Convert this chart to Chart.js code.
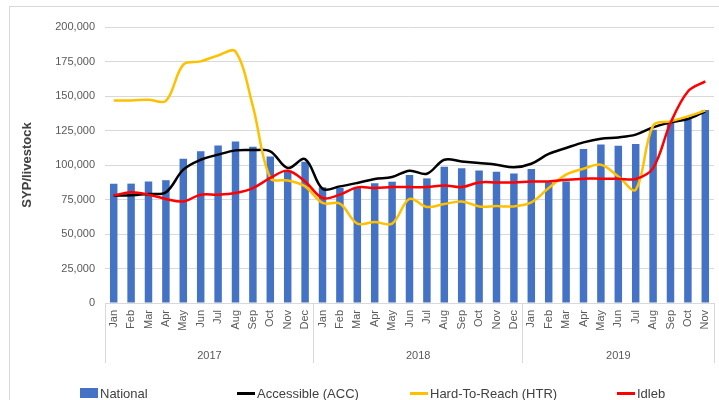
<!DOCTYPE html>
<html>
<head>
<meta charset="utf-8">
<script src="https://cdn.jsdelivr.net/npm/chart.js@4.4.0/dist/chart.umd.min.js"></script>
<style>
  body { margin: 0; overflow: hidden; background: #fff; font-family: "Liberation Sans", Arial, sans-serif; }
  #frame { position: absolute; left: 9px; top: 6px; width: 730px; height: 430px; border: 1px solid #d9d9d9; }
  #chart { position: absolute; left: 0; top: 0; }
  .item { position: absolute; top: 385px; height: 16px; display: flex; align-items: center; font-size: 13px; color: #404040; white-space: nowrap; }
  .item span.mark { display: inline-block; width: 18px; margin-right: 2px; }
</style>
</head>
<body>
<div id="frame"></div>
<canvas id="chart" width="719" height="400"></canvas>
<div id="legend"></div>
<script>
// month / year labels
const months = ['Jan','Feb','Mar','Apr','May','Jun','Jul','Aug','Sep','Oct','Nov','Dec']
const years = ['2017', '2018', '2019']
const monthsPerYear = [12, 12, 11]

// SYP per livestock
const national = [86500, 86500, 88000, 89000, 104500, 110000, 114200, 117000, 113300, 106200, 96000, 102400,
  83800, 83500, 83300, 86700, 87900, 92700, 90300, 98800, 97600, 96100, 95100, 93900,
  97100, 87500, 88100, 111600, 114900, 114000, 115200, 125600, 130400, 133800, 139900]
const accessible = [77800, 78000, 79000, 80200, 96600, 103800, 107500, 110600, 110800, 109900, 97800, 104300,
  82800, 84500, 87000, 89900, 91300, 95900, 93700, 103800, 102600, 101400, 100200, 98300,
  100900, 108000, 112300, 116400, 119100, 120000, 122000, 127300, 130900, 133300, 138800]
const htr = [146800, 146800, 147300, 146500, 172700, 175100, 179400, 182300, 142500, 90600, 88800, 84500,
  72500, 72000, 57500, 58700, 57500, 75400, 69600, 71700, 73600, 70000, 70200, 70000,
  72900, 83300, 93000, 97300, 100200, 91700, 82100, 128500, 131600, 135200, 139400]
const idleb = [77800, 80200, 78500, 75400, 73600, 78500, 78500, 79700, 83300, 90600, 95900, 88100,
  76100, 78500, 83800, 83300, 84000, 84000, 84000, 85200, 84000, 87400, 87400, 87400,
  88100, 88100, 89300, 90100, 90100, 90100, 89900, 97800, 130400, 153300, 160600]

let labels = []
monthsPerYear.forEach(n => { for (let i = 0; i < n; i++) labels.push(months[i]) })

// centre of each year group on a -0.5..N-0.5 linear scale
let yearCenters = []
let start = 0
monthsPerYear.forEach(n => { yearCenters.push(start + (n - 1) / 2); start += n })
// index where each year group starts (for separators)
let yearStarts = [0]
monthsPerYear.reduce((acc, n) => { yearStarts.push(acc + n); return acc + n }, 0)

const grey = '#595959'
const gridGrey = '#d9d9d9'
const lineDs = (label, data, color, order) => ({
  type: 'line', label: label, data: data, borderColor: color, backgroundColor: color,
  borderWidth: 2.5, pointRadius: 0, tension: 0.35, order: order
})

const ctx = document.getElementById('chart')
const chart = new Chart(ctx, {
  type: 'bar',
  data: {
    labels: labels,
    datasets: [
      { label: 'National', data: national, backgroundColor: '#4472C4', order: 3,
        categoryPercentage: 1, barPercentage: 0.43 },
      lineDs('Accessible (ACC)', accessible, '#000000', 2),
      lineDs('Hard-To-Reach (HTR)', htr, '#FFC000', 1),
      lineDs('Idleb', idleb, '#FF0000', 0)
    ]
  },
  options: {
    responsive: false,
    devicePixelRatio: 1,
    animation: false,
    layout: { padding: { top: 27, left: 16, right: 5, bottom: 29 } },
    plugins: { legend: { display: false }, tooltip: { enabled: false } },
    scales: {
      y: {
        min: 0, max: 200000,
        ticks: { stepSize: 25000, color: grey, padding: 10, font: { size: 11 },
          callback: v => v.toLocaleString('en-US') },
        grid: { color: gridGrey, drawTicks: false },
        border: { display: false },
        title: { display: true, text: 'SYP/livestock', color: '#404040',
          font: { size: 13, weight: 'bold' }, padding: { top: 4, bottom: 0 } },
        afterFit: s => { s.width = 89 }
      },
      x: {
        offset: true,
        ticks: { color: grey, font: { size: 11 }, minRotation: 90, maxRotation: 90,
          autoSkip: false, padding: -53 },
        grid: {
          drawOnChartArea: false, tickLength: 60,
          color: c => (c.index === undefined || yearStarts.includes(c.index)) ? gridGrey : 'rgba(0,0,0,0)'
        },
        border: { color: gridGrey },
        afterFit: s => { s.height = 38 }
      },
      x2: {
        type: 'linear', position: 'bottom',
        offset: false,
        min: -0.5, max: labels.length - 0.5,
        grid: { display: false },
        border: { display: false },
        afterBuildTicks: s => { s.ticks = yearCenters.map(v => ({ value: v })) },
        ticks: { color: grey, font: { size: 11 }, maxRotation: 0, autoSkip: false, padding: 0,
          callback: v => years[yearCenters.indexOf(v)] },
        afterFit: s => { s.height = 30 }
      }
    }
  }
})

// html legend, built from the datasets
const legendX = [80, 237, 410, 617]
const legend = document.getElementById('legend')
chart.data.datasets.forEach((ds, i) => {
  const item = document.createElement('div')
  item.className = 'item'
  item.style.left = legendX[i] + 'px'
  const mark = document.createElement('span')
  mark.className = 'mark'
  if (ds.type === 'line') {
    mark.style.height = '3px'
    mark.style.background = ds.borderColor
  } else {
    mark.style.height = '10px'
    mark.style.background = ds.backgroundColor
  }
  item.appendChild(mark)
  item.appendChild(document.createTextNode(ds.label))
  legend.appendChild(item)
})
</script>
</body>
</html>
